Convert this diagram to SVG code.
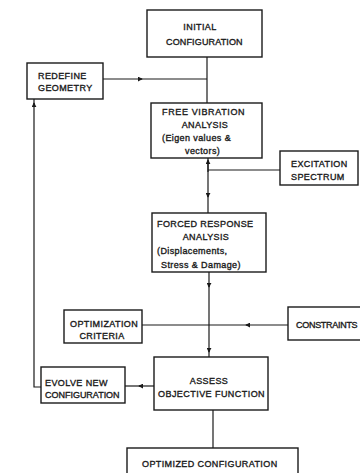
<svg xmlns="http://www.w3.org/2000/svg" width="360" height="473" viewBox="0 0 360 473">
<style>
rect.box{fill:#fff;stroke:#1a1a1a;stroke-width:1.4}
text{font-family:"Liberation Sans",Arial,sans-serif;font-size:9px;fill:#1a1a1a;stroke:#1a1a1a;stroke-width:0.35;letter-spacing:0.4px}
.c{text-anchor:middle}
.ln{fill:none;stroke:#1a1a1a;stroke-width:1.2}
</style>
<defs>
<marker id="ah" viewBox="0 0 6 6" refX="5" refY="3" markerWidth="5" markerHeight="5" markerUnits="userSpaceOnUse" orient="auto">
<path d="M0,0 L6,3 L0,6 Z" fill="#1a1a1a"/>
</marker>
</defs>
<rect width="360" height="473" fill="#fff"/>
<g id="connectors">
<path class="ln" d="M207,57 V103"/>
<path class="ln" d="M103,79 H142" marker-end="url(#ah)"/>
<path class="ln" d="M140,79 H207"/>
<path class="ln" d="M208,172 V160" marker-end="url(#ah)"/>
<path class="ln" d="M208,158 V197" marker-end="url(#ah)"/>
<path class="ln" d="M208,195 V213"/>
<path class="ln" d="M280,170 H208"/>
<path class="ln" d="M209,272 V287" marker-end="url(#ah)"/>
<path class="ln" d="M209,285 V352" marker-end="url(#ah)"/>
<path class="ln" d="M209,350 V357"/>
<path class="ln" d="M288,325 H246" marker-end="url(#ah)"/>
<path class="ln" d="M248,325 H142"/>
<path class="ln" d="M154,386 H139" marker-end="url(#ah)"/>
<path class="ln" d="M141,386 H125"/>
<path class="ln" d="M41,387 H34 V103" marker-end="url(#ah)"/>
<path class="ln" d="M34,104 V99"/>
<path class="ln" d="M213,410 V448"/>
</g>
<g id="initial">
<rect class="box" x="147" y="10" width="115" height="47"/>
<text class="c" x="200" y="29.5">INITIAL</text>
<text x="166" y="44.5" textLength="77">CONFIGURATION</text>
</g>
<g id="redefine">
<rect class="box" x="27" y="63" width="76" height="36"/>
<text x="38" y="78.5">REDEFINE</text>
<text x="38" y="90.5">GEOMETRY</text>
</g>
<g id="free-vibration">
<rect class="box" x="151" y="103" width="111" height="55"/>
<text x="162" y="114.5" textLength="83">FREE VIBRATION</text>
<text class="c" x="205" y="127.5">ANALYSIS</text>
<text x="162" y="140.5">(Eigen values &amp;</text>
<text x="185" y="154">vectors)</text>
</g>
<g id="excitation">
<rect class="box" x="280" y="151" width="78" height="34"/>
<text x="291" y="166.5">EXCITATION</text>
<text x="291" y="179.5">SPECTRUM</text>
</g>
<g id="forced-response">
<rect class="box" x="152" y="213" width="114" height="59"/>
<text x="157" y="226.5">FORCED RESPONSE</text>
<text class="c" x="206" y="239.5">ANALYSIS</text>
<text x="157" y="254">(Displacements,</text>
<text x="161" y="268">Stress &amp; Damage)</text>
</g>
<g id="optimization-criteria">
<rect class="box" x="64" y="310" width="78" height="33"/>
<text x="70" y="326.5">OPTIMIZATION</text>
<text class="c" x="102" y="338.5">CRITERIA</text>
</g>
<g id="constraints">
<rect class="box" x="288" y="307" width="80" height="33"/>
<text x="296" y="328" textLength="62">CONSTRAINTS</text>
</g>
<g id="assess">
<rect class="box" x="154" y="357" width="114" height="53"/>
<text class="c" x="209" y="383.5">ASSESS</text>
<text x="158" y="397" textLength="107">OBJECTIVE FUNCTION</text>
</g>
<g id="evolve">
<rect class="box" x="41" y="367" width="84" height="36"/>
<text x="45" y="386">EVOLVE NEW</text>
<text x="45" y="398" textLength="75">CONFIGURATION</text>
</g>
<g id="optimized">
<rect class="box" x="127" y="448" width="171" height="30"/>
<text x="142" y="466.5">OPTIMIZED CONFIGURATION</text>
</g>
</svg>
